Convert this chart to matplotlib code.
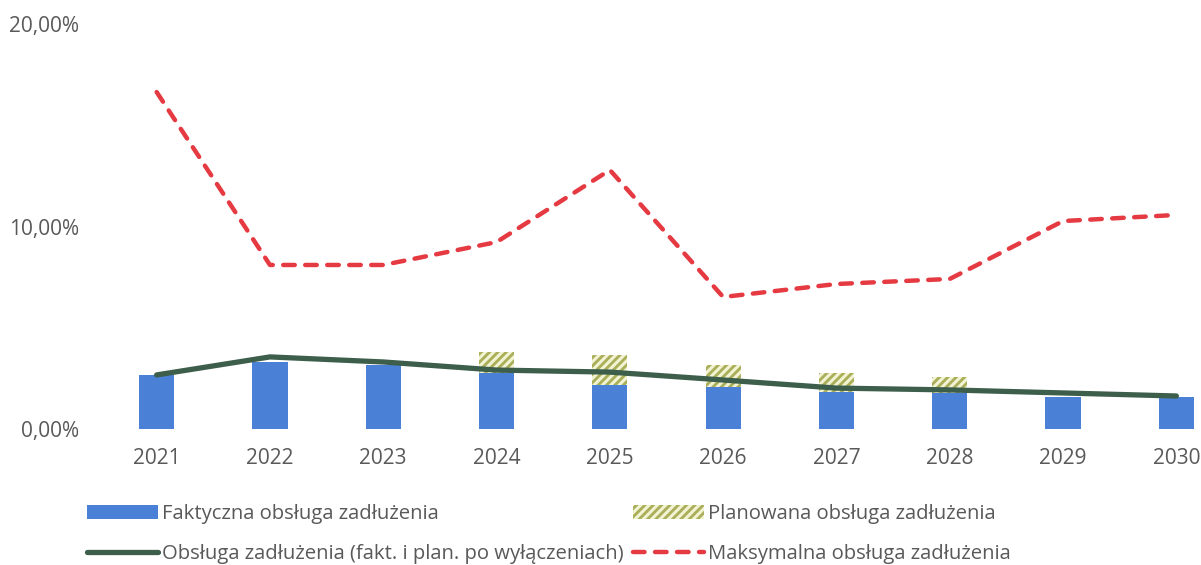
import numpy as np
import matplotlib.pyplot as plt
from matplotlib.ticker import FuncFormatter

plt.rcParams['font.family'] = ['Open Sans', 'DejaVu Sans']
plt.rcParams['hatch.linewidth'] = 2.0

# dane (% )
lata = ['2021', '2022', '2023', '2024', '2025', '2026', '2027', '2028', '2029', '2030']
faktyczna = [2.67, 3.31, 3.16, 2.77, 2.17, 2.07, 1.83, 1.78, 1.58, 1.58]
planowana = [0, 0, 0, 1.03, 1.48, 1.09, 0.94, 0.79, 0, 0]
po_wylaczeniach = [2.67, 3.56, 3.31, 2.91, 2.81, 2.42, 2.02, 1.93, 1.78, 1.63]
maksymalna = [16.64, 8.10, 8.10, 9.23, 12.79, 6.52, 7.16, 7.41, 10.27, 10.57]

szary = '#595959'
x = np.arange(len(lata))

fig = plt.figure(figsize=(12.01, 5.65), dpi=100)
ax = fig.add_axes([100/1201, 136/565, 1133/1201, 405/565])

b1 = ax.bar(x, faktyczna, width=0.31, color='#4a80d6', zorder=2)
b2 = ax.bar(x, planowana, width=0.31, bottom=faktyczna, facecolor='#f1f3d2',
            edgecolor='#aaae58', hatch='////', linewidth=0, zorder=2)
l1, = ax.plot(x, po_wylaczeniach, color='#3c5e4b', lw=3.8, solid_capstyle='round', zorder=3)
l2, = ax.plot(x, maksymalna, color='#e63a42', lw=3.2, dashes=(2.6, 2.35),
              dash_capstyle='round', zorder=3)

ax.set_xlim(-0.5, 9.5)
ax.set_ylim(0, 20)
ax.set_yticks([0, 10, 20])
ax.yaxis.set_major_formatter(FuncFormatter(lambda v, p: f'{v:.2f}'.replace('.', ',') + '%'))
ax.set_xticks(x)
ax.set_xticklabels(lata)
ax.tick_params(axis='both', length=0, labelsize=15, colors=szary)
ax.tick_params(axis='x', pad=14)
ax.tick_params(axis='y', pad=15)
for s in ax.spines.values():
    s.set_visible(False)

# kolumna 1: faktyczna, obsluga; kolumna 2: planowana, maksymalna
fig.legend([b1, l1, b2, l2],
           ['Faktyczna obsługa zadłużenia',
            'Obsługa zadłużenia (fakt. i plan. po wyłączeniach)',
            'Planowana obsługa zadłużenia',
            'Maksymalna obsługa zadłużenia'],
           ncol=2, loc='upper left', bbox_to_anchor=(87/1201, 1 - 504/565),
           frameon=False, fontsize=14.6, labelcolor=szary,
           handlelength=3.5, handletextpad=0.2, columnspacing=0.45,
           labelspacing=0.98, borderpad=0, borderaxespad=0)

fig.savefig('out.png', dpi=100)
